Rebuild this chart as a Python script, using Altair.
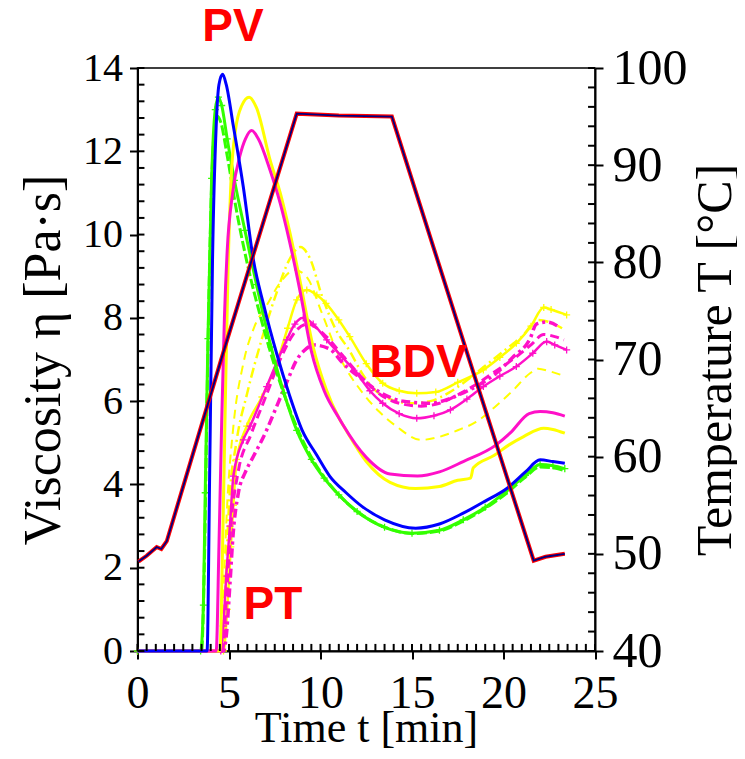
import altair as alt
import pandas as pd

# ---------------- data ----------------
blue_t = [0, 3.8, 3.95, 4.1, 4.3, 4.45, 4.65, 4.85, 5.24, 5.78, 6.33, 6.9, 7.6, 8.3, 9.0, 9.8, 10.5, 11.4, 12.3, 13.5, 15.2, 16.5, 17.8, 19.0, 20.2, 21.2, 22.0, 22.7, 23.35]
blue_v = [0, 0, 4.5, 9.4, 12.6, 13.6, 13.85, 13.6, 12.6, 11.15, 9.4, 8.3, 7.15, 6.15, 5.3, 4.7, 4.2, 3.8, 3.46, 3.15, 2.95, 3.05, 3.31, 3.6, 3.91, 4.3, 4.59, 4.55, 4.51]

greenp_t = [0, 3.45, 3.6, 3.7, 3.85, 4.05, 4.25, 4.42, 4.6, 4.9, 5.3, 5.87, 6.5, 7.3, 8.0, 8.7, 9.5, 10.2, 11.0, 12.0, 13.5, 15.0, 16.5, 17.8, 19.0, 20.2, 21.2, 22.0, 22.7, 23.35]
greenp_v = [0, 0, 1.1, 3.8, 7.5, 11.35, 13.0, 13.3, 13.1, 12.3, 11.3, 10.1, 8.8, 7.3, 6.2, 5.3, 4.6, 4.15, 3.75, 3.35, 2.97, 2.83, 2.9, 3.15, 3.45, 3.85, 4.22, 4.48, 4.45, 4.38]

greend_t = [0, 3.5, 3.65, 3.8, 3.95, 4.15, 4.35, 4.55, 4.9, 5.4, 6.0, 6.8, 7.6, 8.4, 9.2, 10.0, 11.0, 12.5, 14.0, 15.0, 16.5, 17.8, 19.0, 20.2, 21.2, 22.0, 22.7, 23.35]
greend_v = [0, 0, 2.0, 6.0, 9.5, 12.2, 12.85, 12.7, 11.9, 10.6, 9.3, 7.9, 6.7, 5.7, 4.9, 4.3, 3.75, 3.2, 2.9, 2.82, 2.88, 3.12, 3.42, 3.8, 4.18, 4.42, 4.4, 4.33]

yel_t = [0, 4.5, 4.65, 4.8, 4.95, 5.1, 5.35, 5.7, 6.1, 6.5, 7.24, 7.8, 8.3, 8.9, 9.6, 10.3, 11.0, 11.4, 12.5, 13.8, 15.2, 16.5, 17.5, 18.2, 18.35, 19.5, 20.3, 21.1, 22.2, 22.7, 23.35]
yel_v = [0, 0, 2.5, 6.0, 9.2, 11.2, 12.5, 13.1, 13.3, 13.05, 11.8, 11.0, 10.1, 8.85, 7.3, 6.3, 5.6, 5.3, 4.55, 4.05, 3.9, 3.95, 4.1, 4.15, 4.4, 4.7, 4.95, 5.15, 5.35, 5.32, 5.23]

pink_t = [0, 4.3, 4.45, 4.6, 4.75, 4.9, 5.2, 5.6, 5.9, 6.24, 6.6, 7.24, 7.8, 8.3, 8.9, 9.5, 10.2, 11.0, 11.2, 12.5, 13.8, 15.3, 16.5, 17.8, 19.6, 20.4, 21.4, 22.0, 22.7, 23.35]
pink_v = [0, 0, 2.5, 5.5, 8.0, 9.6, 11.0, 11.9, 12.3, 12.5, 12.3, 11.55, 10.75, 9.85, 8.6, 7.2, 6.25, 5.6, 5.45, 4.65, 4.25, 4.2, 4.3, 4.55, 4.95, 5.25, 5.7, 5.75, 5.72, 5.64]

yeld_t = [0, 4.5, 4.7, 4.9, 5.24, 5.78, 6.4, 7.06, 7.8, 8.6, 9.3, 10.0, 11.0, 12.3, 13.2, 14.16, 15.5, 16.3, 17.5, 18.5, 19.5, 20.5, 21.45, 21.9, 22.5, 23.35]
yeld_v = [0, 0, 1.5, 3.5, 5.4, 6.9, 7.8, 8.3, 8.85, 9.15, 8.95, 8.2, 7.1, 6.2, 5.75, 5.39, 5.07, 5.12, 5.3, 5.5, 5.85, 6.25, 6.67, 6.78, 6.72, 6.6]

yeldd_t = [0, 4.6, 4.8, 5.0, 5.4, 6.0, 6.8, 7.6, 8.3, 8.9, 9.4, 10.1, 10.8, 11.6, 12.3, 12.9, 13.8, 15.0, 16.0, 17.0, 18.0, 19.0, 20.0, 21.0, 21.9, 22.5, 23.2]
yeldd_v = [0, 0, 1.5, 3.5, 5.0, 6.2, 7.5, 8.6, 9.4, 9.7, 9.45, 8.5, 7.75, 7.2, 6.65, 6.3, 6.05, 5.95, 6.0, 6.2, 6.5, 6.85, 7.2, 7.55, 7.95, 7.9, 7.75]

yelp_t = [0, 4.7, 4.9, 5.1, 5.24, 5.42, 5.97, 6.8, 7.6, 8.2, 8.7, 9.25, 9.8, 10.3, 11.0, 11.6, 12.5, 13.4, 14.3, 15.26, 16.3, 17.5, 18.9, 19.8, 20.7, 21.5, 22.2, 22.6, 23.45]
yelp_v = [0, 0, 1.0, 2.5, 3.5, 4.6, 5.4, 6.1, 6.9, 7.75, 8.43, 8.67, 8.55, 8.35, 7.95, 7.55, 6.9, 6.43, 6.25, 6.19, 6.22, 6.45, 6.75, 7.05, 7.39, 7.8, 8.25, 8.2, 8.07]

pinkp_t = [0, 4.55, 4.69, 4.85, 5.05, 5.24, 5.78, 6.15, 7.06, 8.15, 8.6, 9.06, 9.6, 10.34, 11.2, 11.98, 12.7, 13.4, 14.3, 15.26, 16.2, 17.1, 18.0, 18.9, 19.8, 20.7, 21.6, 22.36, 22.8, 23.45]
pinkp_v = [0, 0, 0.6, 1.8, 3.0, 4.2, 5.07, 5.4, 6.35, 7.47, 7.85, 8.0, 7.85, 7.47, 7.05, 6.67, 6.25, 5.95, 5.7, 5.59, 5.65, 5.79, 6.05, 6.35, 6.6, 6.83, 7.15, 7.43, 7.35, 7.23]

pinkdd_t = [0, 4.7, 4.87, 5.05, 5.23, 5.51, 5.9, 6.33, 7.0, 7.6, 8.2, 8.7, 9.2, 9.6, 10.5, 11.25, 12.34, 13.3, 14.5, 16.0, 17.0, 17.8, 18.7, 19.6, 20.5, 21.45, 21.8, 22.4, 23.1]
pinkdd_v = [0, 0, 0.45, 1.6, 2.83, 3.79, 4.3, 4.67, 5.25, 5.87, 6.5, 6.99, 7.25, 7.35, 7.25, 6.9, 6.5, 6.2, 6.0, 5.95, 6.05, 6.2, 6.4, 6.67, 7.05, 7.5, 7.85, 7.9, 7.76]

pinkd_t = [0, 4.65, 4.85, 5.1, 5.5, 6.2, 7.0, 7.8, 8.5, 9.3, 10.2, 11.2, 12.3, 13.3, 14.3, 15.5, 16.5, 17.5, 18.5, 19.5, 20.5, 21.5, 22.2, 22.8, 23.3]
pinkd_v = [0, 0, 1.2, 3.0, 4.3, 5.2, 6.1, 7.0, 7.6, 7.85, 7.6, 7.1, 6.55, 6.15, 5.95, 5.88, 5.95, 6.15, 6.4, 6.7, 7.0, 7.35, 7.6, 7.55, 7.47]

temp_t = [0.05, 0.5, 1.05, 1.3, 1.6, 4.78, 8.7, 11.0, 13.9, 17.87, 21.65, 22.3, 23.35]
temp_T = [49.2, 49.8, 50.7, 50.5, 51.3, 71.3, 95.3, 95.1, 95.0, 71.5, 49.3, 49.7, 50.0]

ann_label = ["PV", "BDV", "PT"]
ann_t = [5.22, 15.33, 7.4]
ann_v = [14.99, 6.92, 1.11]

x_major = [0, 5, 10, 15, 20, 25]
x_minor = [i * 0.5 for i in range(51)]
v_major = [0, 2, 4, 6, 8, 10, 12, 14]
v_minor = [round(i * 0.4, 1) for i in range(36)]
T_major = [40, 50, 60, 70, 80, 90, 100]
T_minor = list(range(40, 101, 2))

# ---------------- styling ----------------
SERIF = "Liberation Serif"
BLUE = "#0000FF"
GREEN = "#33FF00"
YELLOW = "#FFFF00"
PINK = "#FF10C8"
W, H = 457.5, 583


def xs():
    return alt.Scale(domain=[0, 25], nice=False, zero=False)


def vs():
    return alt.Scale(domain=[0, 14], nice=False, zero=False)


def ts():
    return alt.Scale(domain=[40, 100], nice=False, zero=False)


ax_bottom = alt.Axis(values=x_major, orient="bottom", tickSize=8, tickWidth=2, tickColor="black",
                     domain=True, domainWidth=2, domainColor="black", grid=False,
                     labelFont=SERIF, labelFontSize=46, labelColor="black", labelPadding=12,
                     labelFlush=False, labelOverlap=False,
                     title="Time t [min]", titleFont=SERIF, titleFontSize=44,
                     titleFontWeight="normal", titleColor="black",
                     titleX=228.5, titleY=90, titleAlign="center", titleBaseline="alphabetic")
ax_left = alt.Axis(values=v_major, orient="left", tickSize=8, tickWidth=2, tickColor="black",
                   domain=True, domainWidth=2, domainColor="black", grid=False,
                   labelFont=SERIF, labelFontSize=40, labelColor="black", labelPadding=7,
                   labelFlush=False, labelOverlap=False,
                   title="Viscosity η [Pa·s]", titleFont=SERIF, titleFontSize=52,
                   titleFontWeight="normal", titleColor="black", titleAngle=270,
                   titleX=-94, titleY=291.5, titleAlign="center", titleBaseline="middle")
ax_right = alt.Axis(values=T_major, orient="right", tickSize=8, tickWidth=2, tickColor="black",
                    domain=True, domainWidth=2, domainColor="black", grid=False,
                    labelFont=SERIF, labelFontSize=50, labelColor="black", labelPadding=9,
                    labelFlush=False, labelOverlap=False,
                    title="Temperature T [°C]", titleFont=SERIF, titleFontSize=50,
                    titleFontWeight="normal", titleColor="black", titleAngle=270,
                    titleX=120, titleY=291.5, titleAlign="center", titleBaseline="middle")


def line(t, v, color, width, dash=None, interp="monotone", xaxis=None, yaxis=None, temp=False):
    df = pd.DataFrame({"t": t, "v": v})
    mk = dict(color=color, strokeWidth=width, interpolate=interp)
    if dash:
        mk["strokeDash"] = dash
    return alt.Chart(df).mark_line(**mk).encode(
        x=alt.X("t:Q", scale=xs(), axis=xaxis),
        y=alt.Y("v:Q", scale=ts() if temp else vs(), axis=yaxis),
    )


def plus(t, v, color):
    df = pd.DataFrame({"t": t, "v": v})
    return alt.Chart(df).mark_point(shape="M-1,0L1,0M0,-1L0,1", size=50, filled=False,
                                    strokeWidth=1.3, color=color, opacity=1).encode(
        x=alt.X("t:Q", scale=xs(), axis=None),
        y=alt.Y("v:Q", scale=vs(), axis=None),
    )


def inner_ticks(t, v, horizontal, temp=False):
    # short inward rules at the minor tick values, drawn through the scales
    df = pd.DataFrame({"t": t, "v": v})
    if horizontal:
        # y from the value, x from the edge value, length as a pixel offset
        return alt.Chart(df).mark_rule(color="#000000", strokeWidth=2, opacity=1).encode(
            x=alt.X("t:Q", scale=xs(), axis=None),
            x2=alt.X2("t2:Q"),
            y=alt.Y("v:Q", scale=ts() if temp else vs(), axis=None),
        ).transform_calculate(t2="datum.t + (datum.t > 12 ? -0.38 : 0.38)")
    return alt.Chart(df).mark_rule(color="#000000", strokeWidth=2, opacity=1).encode(
        x=alt.X("t:Q", scale=xs(), axis=None),
        y=alt.Y("v:Q", scale=vs(), axis=None),
        y2=alt.Y2("v2:Q"),
    ).transform_calculate(v2="datum.v + 0.17")


layers = [
    # carriers of the labelled axes
    line(blue_t, blue_v, BLUE, 0.01, xaxis=ax_bottom, yaxis=ax_left),
    line(temp_t, temp_T, "#000080", 0.01, interp="linear", yaxis=ax_right, temp=True),
    # data
    line(yeld_t, yeld_v, YELLOW, 2, dash=[9, 6]),
    line(yeldd_t, yeldd_v, YELLOW, 2.5, dash=[10, 4, 2, 4]),
    line(yelp_t, yelp_v, YELLOW, 2.5),
    plus(yelp_t, yelp_v, YELLOW),
    line(pinkd_t, pinkd_v, PINK, 3, dash=[9, 5]),
    line(pinkdd_t, pinkdd_v, PINK, 3.5, dash=[9, 4, 3, 4]),
    line(pinkp_t, pinkp_v, PINK, 2.5),
    plus(pinkp_t, pinkp_v, PINK),
    line(greend_t, greend_v, GREEN, 3, dash=[10, 3]),
    line(greenp_t, greenp_v, GREEN, 3),
    plus(greenp_t, greenp_v, GREEN),
    line(yel_t, yel_v, YELLOW, 3),
    line(pink_t, pink_v, PINK, 3),
    line(blue_t, blue_v, BLUE, 3),
    line(temp_t, temp_T, "#FF0000", 4, interp="linear", temp=True),
    line(temp_t, temp_T, "#000080", 1.8, interp="linear", temp=True),
    # inward minor ticks on the bottom, left and right edges
    inner_ticks(x_minor, [0] * len(x_minor), False),
    inner_ticks([0] * len(v_minor), v_minor, True),
    inner_ticks([25] * len(T_minor), T_minor, True, temp=True),
]

ann_df = pd.DataFrame({"label": ann_label, "t": ann_t, "v": ann_v})
ann = alt.Chart(ann_df).mark_text(font="Liberation Sans", fontWeight="bold", fontSize=46,
                                  color="#FF0000", align="center", baseline="middle").encode(
    x=alt.X("t:Q", scale=xs(), axis=None),
    y=alt.Y("v:Q", scale=vs(), axis=None),
    text="label:N",
)
layers.append(ann)

chart = alt.layer(*layers).resolve_scale(x="independent", y="independent").properties(
    width=W, height=H,
    autosize=alt.AutoSizeParams(type="none"),
    padding={"left": 129.5, "top": 60, "right": 142, "bottom": 100},
    background="white",
).configure_view(stroke="black", strokeWidth=1.5)

chart.save("out.html", embed_options={"renderer": "svg", "actions": False})
